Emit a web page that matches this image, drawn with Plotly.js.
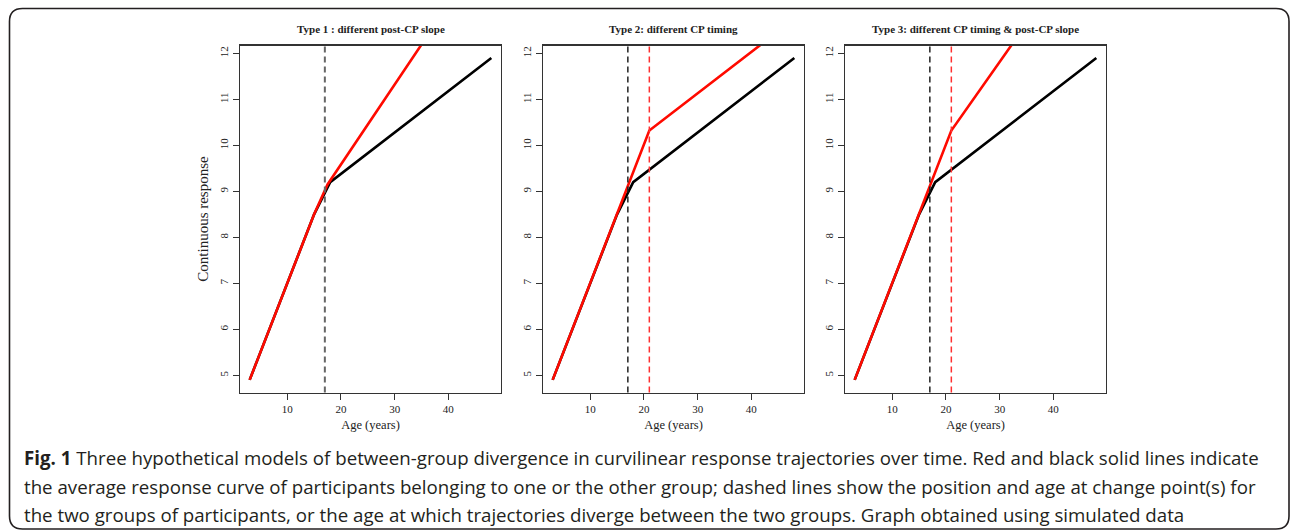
<!DOCTYPE html>
<html>
<head>
<meta charset="utf-8">
<script src="https://cdn.plot.ly/plotly-3.0.1.min.js"></script>
<style>html,body{margin:0;padding:0;background:#fff;}#chart{width:1292px;height:532px;}</style>
</head>
<body>
<div id="chart"></div>
<script>
// ---- data ----
var panelTitles = ["Type 1 : different post-CP slope", "Type 2: different CP timing", "Type 3: different CP timing & post-CP slope"];
var ageBlack = [3, 15, 18, 48];
var respBlack = [4.9, 8.5, 9.2, 11.9];
var ageRed1 = [3, 15, 17.5, 48];
var respRed1 = [4.9, 8.5, 9.15, 14.45];
var ageRed2 = [3, 15, 21, 48];
var respRed2 = [4.9, 8.5, 10.32, 12.75];
var ageRed3 = [3, 15, 21, 48];
var respRed3 = [4.9, 8.5, 10.32, 14.8];
var cpBlack = [17, 17, 17];
var cpRed = [null, 21, 21];
var xTicks = [10, 20, 30, 40];
var yTicks = [5, 6, 7, 8, 9, 10, 11, 12];
var xTitle = "Age (years)";
var yTitle = "Continuous response";
var captionLines = [
  "<b>Fig. 1</b> Three hypothetical models of between-group divergence in curvilinear response trajectories over time. Red and black solid lines indicate",
  "the average response curve of participants belonging to one or the other group; dashed lines show the position and age at change point(s) for",
  "the two groups of participants, or the age at which trajectories diverge between the two groups. Graph obtained using simulated data"
];

// ---- layout helpers ----
var W = 1292, H = 532;
function px(x) { return x / W; }
function py(y) { return 1 - y / H; }
var panelLeft = [240, 543, 845];
var panelWidth = 261;
var panelTop = 45.5, panelBottom = 392.5;
var serif = "Liberation Serif, Times New Roman, serif";

var redSets = [[ageRed1, respRed1], [ageRed2, respRed2], [ageRed3, respRed3]];
var traces = [];
var layout = {
  width: W, height: H,
  margin: {l: 0, r: 0, t: 0, b: 0},
  paper_bgcolor: "#ffffff",
  plot_bgcolor: "#ffffff",
  showlegend: false,
  annotations: [],
  shapes: []
};

for (var i = 0; i < 3; i++) {
  var sfx = i === 0 ? "" : String(i + 1);
  var xa = "x" + sfx, ya = "y" + sfx;
  traces.push({x: ageBlack, y: respBlack, xaxis: xa, yaxis: ya, mode: "lines", type: "scatter",
    line: {color: "#000000", width: 2.6}, hoverinfo: "skip"});
  traces.push({x: redSets[i][0], y: redSets[i][1], xaxis: xa, yaxis: ya, mode: "lines", type: "scatter",
    line: {color: "#ff0a00", width: 2.6}, hoverinfo: "skip"});

  var axX = {
    domain: [px(panelLeft[i]), px(panelLeft[i] + panelWidth)],
    range: [1.2, 49.8], anchor: ya,
    tickvals: xTicks, ticktext: xTicks.map(String),
    ticks: "outside", ticklen: 6, tickwidth: 1, tickcolor: "#333",
    showline: true, mirror: true, linecolor: "#333", linewidth: 1.4,
    showgrid: false, zeroline: false,
    tickfont: {family: serif, size: 11, color: "#222"},
    title: {text: xTitle, font: {family: serif, size: 12.5, color: "#222"}, standoff: 6}
  };
  var axY = {
    domain: [py(panelBottom), py(panelTop)],
    range: [4.626, 12.17], anchor: xa,
    tickvals: yTicks, ticktext: yTicks.map(String),
    tickangle: -90,
    ticks: "outside", ticklen: 6, tickwidth: 1, tickcolor: "#333",
    showline: true, mirror: true, linecolor: "#333", linewidth: 1.4,
    showgrid: false, zeroline: false,
    tickfont: {family: serif, size: 11, color: "#222"}
  };
  if (i === 0) {
    axY.title = {text: yTitle, font: {family: serif, size: 15, color: "#222"}, standoff: 6};
  }
  layout["xaxis" + sfx] = axX;
  layout["yaxis" + sfx] = axY;

  // change-point dashed lines
  layout.shapes.push({type: "line", xref: xa, yref: ya + " domain", x0: cpBlack[i], x1: cpBlack[i], y0: 0, y1: 1,
    line: {color: i === 0 ? "#666666" : "#222222", width: i === 0 ? 2 : 1.5, dash: "6px,4px"}});
  if (cpRed[i] !== null) {
    layout.shapes.push({type: "line", xref: xa, yref: ya + " domain", x0: cpRed[i], x1: cpRed[i], y0: 0, y1: 1,
      line: {color: "#ff3030", width: 1.5, dash: "6px,4px"}});
  }

  // panel title
  layout.annotations.push({text: "<b>" + panelTitles[i] + "</b>", xref: "paper", yref: "paper",
    x: px(panelLeft[i] + panelWidth / 2), y: py(29), xanchor: "center", yanchor: "middle",
    showarrow: false, font: {family: serif, size: 11, color: "#222"}});
}

// caption
var capY = [457, 486, 514];
for (var k = 0; k < captionLines.length; k++) {
  layout.annotations.push({text: captionLines[k], xref: "paper", yref: "paper",
    x: px(22), y: py(capY[k]), xanchor: "left", yanchor: "middle", showarrow: false,
    font: {family: "Open Sans, sans-serif", size: 18.7, color: "#231f20"}});
}

// rounded frame
var fl = 9.5, ft = 8.5, fr = 1289, fb = 529, rr = 13;
function P(x, y) { return px(x) + "," + py(y); }
var framePath = "M" + P(fl + rr, ft) + " L" + P(fr - rr, ft) + " Q" + P(fr, ft) + " " + P(fr, ft + rr) +
  " L" + P(fr, fb - rr) + " Q" + P(fr, fb) + " " + P(fr - rr, fb) +
  " L" + P(fl + rr, fb) + " Q" + P(fl, fb) + " " + P(fl, fb - rr) +
  " L" + P(fl, ft + rr) + " Q" + P(fl, ft) + " " + P(fl + rr, ft) + " Z";
layout.shapes.push({type: "path", xref: "paper", yref: "paper", path: framePath,
  line: {color: "#231f20", width: 1.6}, fillcolor: "rgba(0,0,0,0)", layer: "below"});

Plotly.newPlot("chart", traces, layout, {staticPlot: true, displayModeBar: false});
</script>
</body>
</html>
